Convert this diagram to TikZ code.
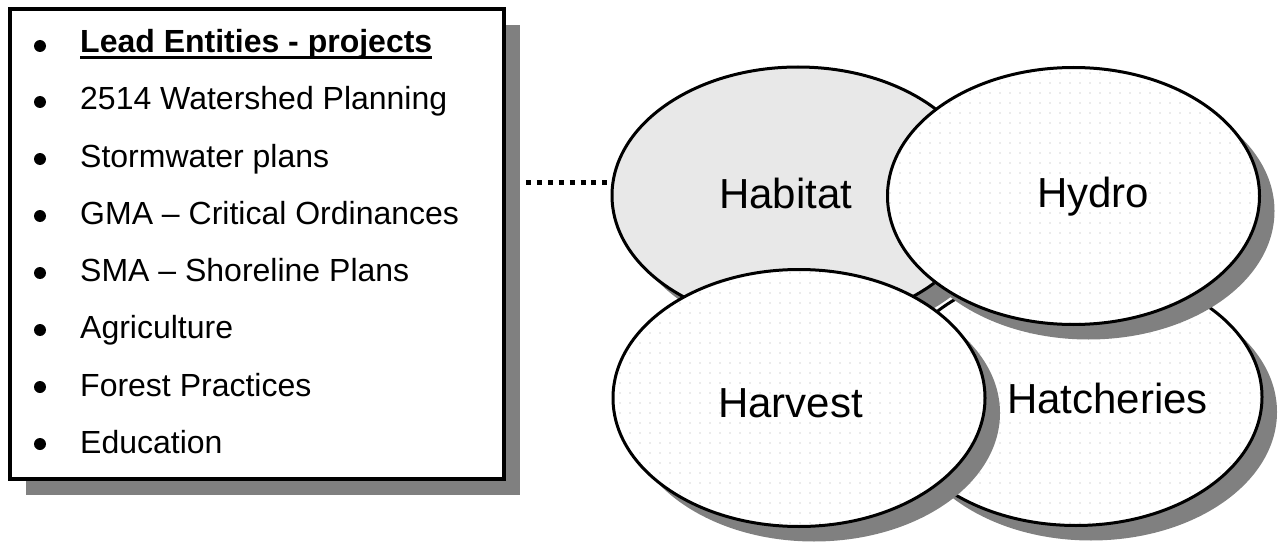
\documentclass[tikz,border=0pt]{standalone}
\usepackage{fontspec}
\setmainfont{Liberation Sans}
\usetikzlibrary{shapes.geometric,shadows,patterns.meta}
\definecolor{shgray}{HTML}{808080}
\definecolor{habfill}{HTML}{E8E8E8}
\definecolor{dotgray}{HTML}{D8D8D8}
\tikzset{
  listbox/.style={draw, line width=3.5pt, fill=white, minimum width=494pt, minimum height=470pt, inner sep=0pt,
    general shadow={fill=shgray, shadow xshift=16pt, shadow yshift=-16pt}},
  blt/.style={circle, fill=black, inner sep=0pt, minimum size=12pt},
  itemtxt/.style={anchor=base west, font=\fontsize{32pt}{38pt}\selectfont, inner sep=0pt},
  oval/.style={ellipse, draw, line width=3pt, minimum width=372pt, minimum height=257pt, inner sep=0pt,
    general shadow={fill=shgray, shadow xshift=15pt, shadow yshift=-15pt}},
  dotted oval/.style={oval, preaction={fill=white}, pattern={Dots[distance=10pt, radius=0.8pt]}, pattern color=dotgray},
  ovaltxt/.style={anchor=base west, font=\fontsize{42pt}{50pt}\selectfont, inner sep=0pt},
  dotline/.style={line width=5pt, dash pattern=on 5pt off 5.9pt},
}
\begin{document}
\begin{tikzpicture}[x=1pt,y=-1pt]
\useasboundingbox (0,0) rectangle (1278,543);
% list box
\node[listbox] (box) at (257,244) {};
\node[blt] (b1) at (40,46) {};
\node[itemtxt, font=\fontsize{32pt}{38pt}\selectfont\bfseries] (t1) at (80,53) {Lead Entities - projects};
\draw[line width=2.2pt] ([yshift=-4.5pt]t1.base west) -- ([yshift=-4.5pt]t1.base east);
\node[blt] (b2) at (40,102) {};
\node[itemtxt] (t2) at (80,110) {2514 Watershed Planning};
\node[blt] (b3) at (40,159) {};
\node[itemtxt] (t3) at (80,167) {Stormwater plans};
\node[blt] (b4) at (40,216) {};
\node[itemtxt] (t4) at (80,224) {GMA -- Critical Ordinances};
\node[blt] (b5) at (40,273) {};
\node[itemtxt] (t5) at (80,281) {SMA -- Shoreline Plans};
\node[blt] (b6) at (40,330) {};
\node[itemtxt] (t6) at (80,338) {Agriculture};
\node[blt] (b7) at (40,387) {};
\node[itemtxt] (t7) at (80,396) {Forest Practices};
\node[blt] (b8) at (40,444) {};
\node[itemtxt] (t8) at (80,453) {Education};
% ovals
\node[oval, fill=habfill] (habitat) at (798,195.5) {};
\node[dotted oval] (hatcheries) at (1076,397) {};
\node[dotted oval] (hydro) at (1073.5,196) {};
\node[dotted oval] (harvest) at (799,398) {};
\node[ovaltxt] (habT) at (719,208) {Habitat};
\node[ovaltxt] (hydT) at (1037,207) {Hydro};
\node[ovaltxt] (harT) at (718,417) {Harvest};
\node[ovaltxt] (hatT) at (1007,413) {Hatcheries};
% dotted connector
\coordinate (dstart) at (526,182);
\draw[dotline] (dstart) -- (dstart -| habitat.west);
\end{tikzpicture}
\end{document}
